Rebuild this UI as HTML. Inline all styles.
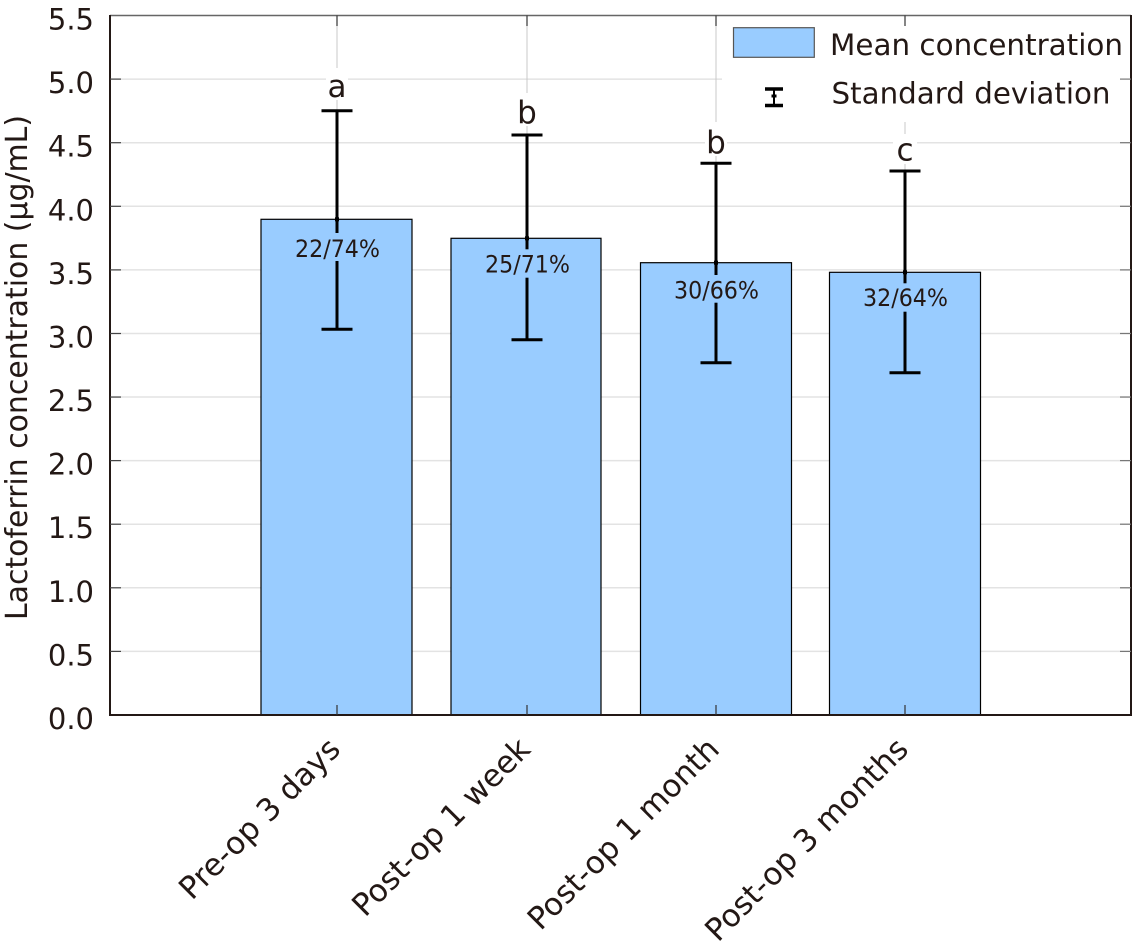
<!DOCTYPE html>
<html><head><meta charset="utf-8"><style>
html,body{margin:0;padding:0;background:#fff;}
svg{display:block;}
text{font-family:"DejaVu Sans","Liberation Sans",sans-serif;fill:#231815;}
</style></head><body>
<svg width="1135" height="942" viewBox="0 0 1135 942" xmlns="http://www.w3.org/2000/svg">
<rect width="1135" height="942" fill="#fff"/>
<!-- horizontal gridlines -->
<g stroke="#e3e3e3" stroke-width="1.5">
<line x1="110" x2="1131" y1="651.4" y2="651.4"/>
<line x1="110" x2="1131" y1="587.8" y2="587.8"/>
<line x1="110" x2="1131" y1="524.2" y2="524.2"/>
<line x1="110" x2="1131" y1="460.6" y2="460.6"/>
<line x1="110" x2="1131" y1="397.05" y2="397.05"/>
<line x1="110" x2="1131" y1="333.5" y2="333.5"/>
<line x1="110" x2="1131" y1="269.9" y2="269.9"/>
<line x1="110" x2="1131" y1="206.3" y2="206.3"/>
<line x1="110" x2="1131" y1="142.7" y2="142.7"/>
<line x1="110" x2="1131" y1="79.1" y2="79.1"/>
</g>
<!-- vertical gridlines -->
<g stroke="#c8c8c8" stroke-width="1">
<line x1="337" x2="337" y1="15.5" y2="715"/>
<line x1="527" x2="527" y1="15.5" y2="715"/>
<line x1="716" x2="716" y1="15.5" y2="715"/>
<line x1="905" x2="905" y1="15.5" y2="715"/>
</g>
<!-- bars -->
<g fill="#99ccff" stroke="#000" stroke-width="1.2">
<rect x="261" y="219.3" width="151" height="495.7"/>
<rect x="451" y="238.3" width="150" height="476.7"/>
<rect x="640.5" y="262.7" width="151" height="452.3"/>
<rect x="829.5" y="272.3" width="151" height="442.7"/>
</g>
<!-- error bars -->
<g stroke="#000" stroke-width="3">
<line x1="337" x2="337" y1="110.7" y2="329.3"/>
<line x1="321.5" x2="352.5" y1="110.7" y2="110.7"/>
<line x1="321.5" x2="352.5" y1="329.3" y2="329.3"/>
<line x1="527" x2="527" y1="135" y2="339.7"/>
<line x1="511.5" x2="542.5" y1="135" y2="135"/>
<line x1="511.5" x2="542.5" y1="339.7" y2="339.7"/>
<line x1="716" x2="716" y1="163.3" y2="362.7"/>
<line x1="700.5" x2="731.5" y1="163.3" y2="163.3"/>
<line x1="700.5" x2="731.5" y1="362.7" y2="362.7"/>
<line x1="905" x2="905" y1="171" y2="372.7"/>
<line x1="889.5" x2="920.5" y1="171" y2="171"/>
<line x1="889.5" x2="920.5" y1="372.7" y2="372.7"/>
</g>
<g fill="#000">
<rect x="335" y="217.3" width="4" height="4"/>
<rect x="525" y="236.3" width="4" height="4"/>
<rect x="714" y="260.7" width="4" height="4"/>
<rect x="903" y="270.3" width="4" height="4"/>
</g>
<!-- in-bar labels -->
<g fill="#99ccff">
<rect x="293" y="233" width="88" height="28"/>
<rect x="483" y="249.3" width="88" height="28.4"/>
<rect x="672" y="275" width="88" height="27.7"/>
<rect x="861" y="283.3" width="88" height="28.4"/>
</g>
<g font-size="24" text-anchor="middle">
<text x="337.5" y="257" textLength="85" lengthAdjust="spacingAndGlyphs">22/74%</text>
<text x="527.5" y="272.7" textLength="85" lengthAdjust="spacingAndGlyphs">25/71%</text>
<text x="716.5" y="298.3" textLength="85" lengthAdjust="spacingAndGlyphs">30/66%</text>
<text x="905.5" y="306" textLength="85" lengthAdjust="spacingAndGlyphs">32/64%</text>
</g>
<!-- significance letters -->
<g fill="#fff">
<rect x="326" y="68" width="22" height="32"/>
<rect x="516" y="93" width="22" height="33"/>
<rect x="705" y="122" width="22" height="34"/>
<rect x="893" y="134" width="24" height="30"/>
</g>
<g font-size="31" text-anchor="middle">
<text x="337" y="97">a</text>
<text x="527" y="123">b</text>
<text x="716" y="153">b</text>
<text x="905" y="160.7">c</text>
</g>
<!-- legend -->
<rect x="722" y="17" width="408" height="105" fill="#fff"/>
<rect x="733.5" y="27.7" width="80.8" height="29.6" fill="#99ccff" stroke="#555" stroke-width="1.2"/>
<text x="830" y="55" font-size="29.5" textLength="293" lengthAdjust="spacingAndGlyphs">Mean concentration</text>
<g stroke="#000">
<line x1="774" x2="774" y1="88" y2="105" stroke-width="2"/>
<line x1="765" x2="783" y1="89" y2="89" stroke-width="3.5"/>
<line x1="765" x2="783" y1="105.5" y2="105.5" stroke-width="3.5"/>
</g>
<rect x="771.5" y="94.5" width="5" height="3" fill="#000"/>
<text x="831.5" y="103.3" font-size="29.5" textLength="279" lengthAdjust="spacingAndGlyphs">Standard deviation</text>
<!-- axes box -->
<line x1="110" x2="1131" y1="15.5" y2="15.5" stroke="#666" stroke-width="1.5"/>
<line x1="110" x2="110" y1="15" y2="716" stroke="#231815" stroke-width="2"/>
<line x1="1131" x2="1131" y1="15" y2="716" stroke="#231815" stroke-width="2"/>
<line x1="109" x2="1132" y1="715" y2="715" stroke="#231815" stroke-width="2"/>
<!-- left ticks -->
<g stroke="#444" stroke-width="1.2">
<line x1="110" x2="121" y1="651.4" y2="651.4"/>
<line x1="110" x2="121" y1="587.8" y2="587.8"/>
<line x1="110" x2="121" y1="524.2" y2="524.2"/>
<line x1="110" x2="121" y1="460.6" y2="460.6"/>
<line x1="110" x2="121" y1="397.05" y2="397.05"/>
<line x1="110" x2="121" y1="333.5" y2="333.5"/>
<line x1="110" x2="121" y1="269.9" y2="269.9"/>
<line x1="110" x2="121" y1="206.3" y2="206.3"/>
<line x1="110" x2="121" y1="142.7" y2="142.7"/>
<line x1="110" x2="121" y1="79.1" y2="79.1"/>
</g>
<!-- right ticks -->
<g stroke="#777" stroke-width="1.2">
<line x1="1120" x2="1131" y1="651.4" y2="651.4"/>
<line x1="1120" x2="1131" y1="587.8" y2="587.8"/>
<line x1="1120" x2="1131" y1="524.2" y2="524.2"/>
<line x1="1120" x2="1131" y1="460.6" y2="460.6"/>
<line x1="1120" x2="1131" y1="397.05" y2="397.05"/>
<line x1="1120" x2="1131" y1="333.5" y2="333.5"/>
<line x1="1120" x2="1131" y1="269.9" y2="269.9"/>
<line x1="1120" x2="1131" y1="206.3" y2="206.3"/>
<line x1="1120" x2="1131" y1="142.7" y2="142.7"/>
<line x1="1120" x2="1131" y1="79.1" y2="79.1"/>
</g>
<!-- top/bottom ticks -->
<g stroke="#333" stroke-width="1.2">
<line x1="337" x2="337" y1="15.5" y2="26"/>
<line x1="527" x2="527" y1="15.5" y2="26"/>
<line x1="716" x2="716" y1="15.5" y2="26"/>
<line x1="905" x2="905" y1="15.5" y2="26"/>
<line x1="337" x2="337" y1="705" y2="715"/>
<line x1="527" x2="527" y1="705" y2="715"/>
<line x1="716" x2="716" y1="705" y2="715"/>
<line x1="905" x2="905" y1="705" y2="715"/>
</g>
<!-- y tick labels -->
<g font-size="29" text-anchor="end">
<text x="94" y="729">0.0</text>
<text x="94" y="665.4">0.5</text>
<text x="94" y="601.8">1.0</text>
<text x="94" y="538.2">1.5</text>
<text x="94" y="474.6">2.0</text>
<text x="94" y="411">2.5</text>
<text x="94" y="347.5">3.0</text>
<text x="94" y="283.9">3.5</text>
<text x="94" y="220.3">4.0</text>
<text x="94" y="156.7">4.5</text>
<text x="94" y="93.1">5.0</text>
<text x="94" y="29.5">5.5</text>
</g>
<!-- y axis label -->
<text x="0" y="0" font-size="30" text-anchor="middle" transform="translate(27,367.5) rotate(-90)" textLength="505" lengthAdjust="spacingAndGlyphs">Lactoferrin concentration (μg/mL)</text>
<!-- x labels -->
<g font-size="31" text-anchor="end">
<text transform="translate(342,751) rotate(-45)">Pre-op 3 days</text>
<text transform="translate(532,751) rotate(-45)">Post-op 1 week</text>
<text transform="translate(721,751) rotate(-45)">Post-op 1 month</text>
<text transform="translate(910,751) rotate(-45)">Post-op 3 months</text>
</g>
</svg>
</body></html>
